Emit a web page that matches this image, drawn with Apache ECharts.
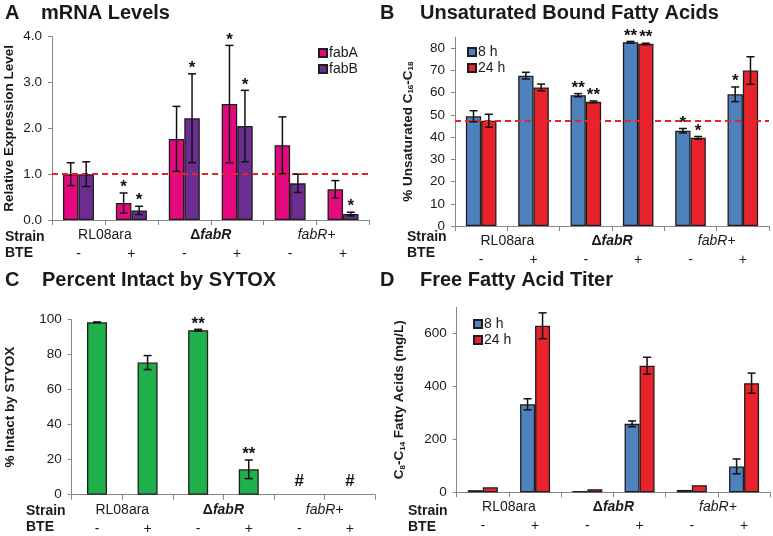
<!DOCTYPE html>
<html><head><meta charset="utf-8">
<script src="https://cdn.jsdelivr.net/npm/echarts@6/dist/echarts.min.js"></script>
<style>html,body{margin:0;padding:0;background:#fff}#c{width:773px;height:536px}</style>
</head><body><div id="c"></div><script>
const FONT = '"Liberation Sans", Arial, Helvetica, sans-serif';
const TXT = '#1a1a1a';
const AXC = '#878787';

// shared categories
const btes = ['-', '+', '-', '+', '-', '+'];
const strains = ['RL08ara', 'ΔfabR', 'fabR+'];

// Panel A: mRNA levels
const fabA = [1.00, 0.37, 1.77, 2.53, 1.63, 0.67];
const fabAErr = [0.25, 0.22, 0.71, 1.28, 0.62, 0.19];
const fabASig = ['', '*', '', '*', '', ''];
const fabB = [1.00, 0.21, 2.22, 2.05, 0.80, 0.13];
const fabBErr = [0.27, 0.09, 0.97, 0.78, 0.20, 0.04];
const fabBSig = ['', '*', '*', '*', '', '*'];
const refA = 1.0;

// Panel B: unsaturated bound fatty acids
const ufa8 = [49.4, 67.7, 58.9, 82.7, 42.9, 59.3];
const ufa8Err = [2.5, 1.5, 0.7, 0.4, 1.0, 3.3];
const ufa8Sig = ['', '', '**', '**', '*', '*'];
const ufa24 = [47.4, 62.4, 55.9, 82.0, 39.7, 70.0];
const ufa24Err = [2.9, 1.5, 0.4, 0.3, 0.6, 6.2];
const ufa24Sig = ['', '', '**', '**', '*', ''];
const refB = 47.4;

// Panel C: percent intact by SYTOX
const intact = [98.5, 75.5, 94.0, 14.5, null, null];
const intactErr = [0.2, 4.0, 0.5, 5.3, 0, 0];
const intactSig = ['', '', '**', '**', '#', '#'];

// Panel D: free fatty acid titer
const ffa8 = [8, 333, 5, 259, 9, 98];
const ffa8Err = [0, 21, 0, 11, 0, 28];
const ffa24 = [19, 630, 12, 479, 27, 413];
const ffa24Err = [0, 49, 0, 32, 0, 38];
const noSig = ['', '', '', '', '', ''];

const C_FABA = '#e5097f', C_FABB = '#6b2d8f', C_BLUE = '#4f81bd', C_RED = '#e8232b', C_GREEN = '#1faf4b';

const grids = [
  {left: 52, top: 36.7, width: 317.5, height: 183.3},
  {left: 455, top: 37.2, width: 314, height: 188.8},
  {left: 71.7, top: 319.7, width: 303.5, height: 175},
  {left: 456.7, top: 307.3, width: 313.5, height: 185}
];

function xAxes(g) {
  return [
    {type: 'category', gridIndex: g, data: btes, position: 'bottom',
      axisLine: {lineStyle: {color: AXC, width: 1}},
      axisTick: {show: true, length: 5, lineStyle: {color: AXC}},
      axisLabel: {margin: 27, interval: 0, fontSize: 14, color: TXT, fontFamily: FONT}},
    {type: 'category', gridIndex: g, data: strains, position: 'bottom',
      axisLine: {show: false}, axisTick: {show: false},
      axisLabel: {margin: 8, interval: 0, hideOverlap: false, fontSize: 14, color: TXT, fontFamily: FONT,
        formatter: v => v === 'ΔfabR' ? '{db|Δ}{bi|fabR}' : (v === 'fabR+' ? '{it|fabR+}' : v),
        rich: {
          db: {fontSize: 14, fontWeight: 'bold', fontFamily: FONT, color: TXT},
          bi: {fontSize: 14, fontWeight: 'bold', fontStyle: 'italic', fontFamily: FONT, color: TXT},
          it: {fontSize: 14, fontStyle: 'italic', fontFamily: FONT, color: TXT}
        }}}
  ];
}
const subRich = {sub: {fontSize: 8, fontWeight: 'bold', fontFamily: FONT, color: TXT, verticalAlign: 'bottom'}};
function yAxis(g, max, interval, name, gap, fmt, showMax) {
  return {type: 'value', gridIndex: g, min: 0, max: max, interval: interval,
    axisLine: {show: true, lineStyle: {color: AXC, width: 1}},
    axisTick: {show: true, length: 4, lineStyle: {color: AXC}},
    splitLine: {show: false},
    axisLabel: {margin: 10, fontSize: 13.5, color: TXT, fontFamily: FONT, formatter: fmt, showMaxLabel: showMax},
    name: name, nameLocation: 'middle', nameRotate: 90, nameGap: gap,
    nameTextStyle: {fontSize: 13.5, fontWeight: 'bold', color: TXT, fontFamily: FONT, rich: subRich}};
}

function bar(name, g, data, color, bw, mark) {
  const s = {type: 'bar', name: name, xAxisIndex: 2 * g, yAxisIndex: g, data: data,
    barWidth: bw, barGap: '0%',
    itemStyle: {color: color, borderColor: '#1e1e1e', borderWidth: 1.3}};
  if (mark != null) {
    s.markLine = {silent: true, symbol: 'none', label: {show: false},
      lineStyle: {color: '#e8232b', type: [6, 4], width: 2},
      data: [{yAxis: mark}]};
  }
  return s;
}

function err(g, vals, errs, sigs, offset) {
  return {type: 'custom', xAxisIndex: 2 * g, yAxisIndex: g, z: 5, silent: true,
    data: btes.map((b, i) => [i, vals[i] == null ? 0 : vals[i]]),
    renderItem: function (params, api) {
      const i = params.dataIndex;
      const v = vals[i], e = errs[i], s = sigs[i];
      const children = [];
      const base = api.coord([i, v == null ? 0 : v]);
      const cx = base[0] + offset;
      let topY = base[1];
      if (v != null && e > 0) {
        const pt = api.coord([i, v + e]), pb = api.coord([i, v - e]);
        const st = {stroke: '#111', lineWidth: 1.5};
        children.push({type: 'line', shape: {x1: cx, y1: pt[1], x2: cx, y2: pb[1]}, style: st});
        children.push({type: 'line', shape: {x1: cx - 4, y1: pt[1], x2: cx + 4, y2: pt[1]}, style: st});
        children.push({type: 'line', shape: {x1: cx - 4, y1: pb[1], x2: cx + 4, y2: pb[1]}, style: st});
        topY = pt[1];
      }
      if (s) {
        children.push({type: 'text', style: {text: s, x: cx, y: topY + (s === '#' ? -5 : 3),
          align: 'center', verticalAlign: 'bottom', font: 'bold 17px ' + FONT, fill: '#111'}});
      }
      return {type: 'group', children: children};
    }};
}

function txt(x, y, t, size, weight) {
  return {type: 'text', x: x, y: y, silent: true,
    style: {text: t, font: (weight || 'bold') + ' ' + size + 'px ' + FONT, fill: TXT, verticalAlign: 'middle'}};
}

const legendStyle = {orient: 'vertical', itemWidth: 8, itemHeight: 8, itemGap: 2, icon: 'rect',
  textStyle: {fontSize: 14, color: TXT, fontFamily: FONT, padding: [0, 0, 0, -3]}};

const option = {
  animation: false,
  backgroundColor: '#fff',
  textStyle: {fontFamily: FONT},
  grid: grids,
  xAxis: [].concat(xAxes(0), xAxes(1), xAxes(2), xAxes(3)),
  yAxis: [
    yAxis(0, 4, 1, 'Relative Expression Level', 36, v => v.toFixed(1), true),
    yAxis(1, 85, 10, '% Unsaturated C{sub|16}-C{sub|18}', 40, null, false),
    yAxis(2, 100, 20, '% Intact by STYOX', 54, null, true),
    yAxis(3, 700, 200, 'C{sub|8}-C{sub|14} Fatty Acids (mg/L)', 50, null, false)
  ],
  legend: [
    Object.assign({data: ['fabA', 'fabB'], left: 313, top: 41}, legendStyle),
    Object.assign({data: ['8 h', '24 h'], left: 462, top: 40}, legendStyle),
    Object.assign({data: ['8 h', '24 h'], left: 468, top: 312}, legendStyle)
  ],
  graphic: [
    txt(5, 13, 'A', 20), txt(41, 13, 'mRNA Levels', 20),
    txt(380, 13, 'B', 20), txt(420, 13, 'Unsaturated Bound Fatty Acids', 20),
    txt(5, 280, 'C', 20), txt(42, 280, 'Percent Intact by SYTOX', 20),
    txt(380, 280, 'D', 20), txt(420, 280, 'Free Fatty Acid Titer', 20),
    txt(5, 237, 'Strain', 14), txt(5, 253, 'BTE', 14),
    txt(407, 237, 'Strain', 14), txt(407, 253, 'BTE', 14),
    txt(26, 511, 'Strain', 14), txt(26, 527, 'BTE', 14),
    txt(408, 511, 'Strain', 14), txt(408, 527, 'BTE', 14)
  ],
  series: [
    bar('fabA', 0, fabA, C_FABA, 15.5, refA),
    bar('fabB', 0, fabB, C_FABB, 15.5),
    err(0, fabA, fabAErr, fabASig, -7.75),
    err(0, fabB, fabBErr, fabBSig, 7.75),

    bar('8 h', 1, ufa8, C_BLUE, 15.3, refB),
    bar('24 h', 1, ufa24, C_RED, 15.3),
    err(1, ufa8, ufa8Err, ufa8Sig, -7.65),
    err(1, ufa24, ufa24Err, ufa24Sig, 7.65),

    bar('intact', 2, intact, C_GREEN, 20),
    err(2, intact, intactErr, intactSig, 0),

    bar('8 h', 3, ffa8, C_BLUE, 15),
    bar('24 h', 3, ffa24, C_RED, 15),
    err(3, ffa8, ffa8Err, noSig, -7.5),
    err(3, ffa24, ffa24Err, noSig, 7.5)
  ]
};

const chart = echarts.init(document.getElementById('c'), null, {renderer: 'canvas'});
chart.setOption(option);
</script></body></html>
